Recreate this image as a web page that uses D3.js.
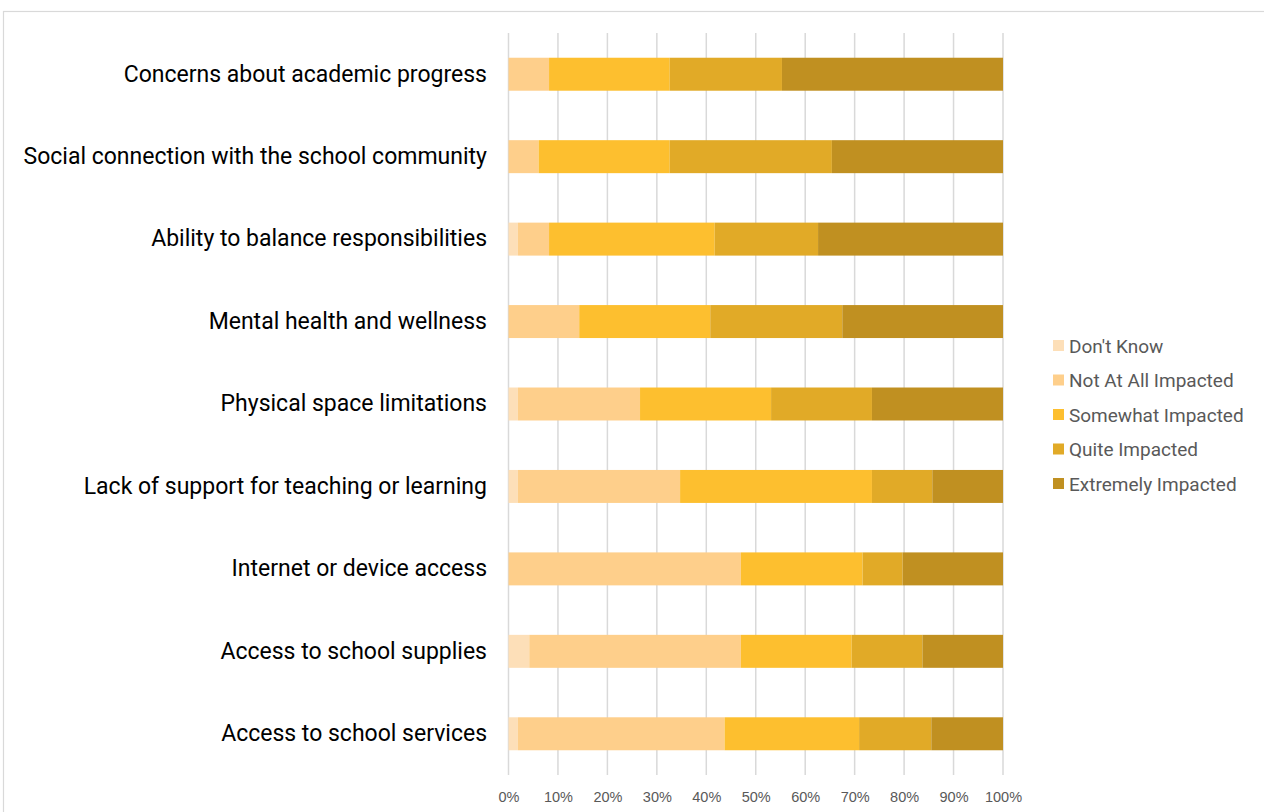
<!DOCTYPE html>
<html><head><meta charset="utf-8">
<script src="https://cdn.jsdelivr.net/npm/d3@7"></script>
<style>body{margin:0;background:#fff}</style>
</head><body>
<svg id="c" width="1264" height="812"></svg>
<script>
const categories = [
  "Concerns about academic progress",
  "Social connection with the school community",
  "Ability to balance responsibilities",
  "Mental health and wellness",
  "Physical space limitations",
  "Lack of support for teaching or learning",
  "Internet or device access",
  "Access to school supplies",
  "Access to school services"
];
const seriesNames = ["Don't Know","Not At All Impacted","Somewhat Impacted","Quite Impacted","Extremely Impacted"];
const dontKnow      = [0,   0,   1.9, 0,    1.9, 1.9, 0,    4.2, 1.9];
const notAtAll      = [8.2, 6.1, 6.3, 14.3, 24.7,32.8,47.0, 42.8,41.8];
const somewhat      = [24.4,26.5,33.5,26.5, 26.5,38.8,24.6, 22.4,27.2];
const quite         = [22.7,32.8,20.9,26.7, 20.4,12.2,8.1,  14.3,14.6];
const extremely     = [44.7,34.6,37.4,32.5, 26.5,14.3,20.3, 16.3,14.5];
const tickValues = [0,10,20,30,40,50,60,70,80,90,100];
const colors = ["#fddfb8","#fecf8b","#fdbf2f","#e1aa27","#c09021"];

const svg = d3.select("#c");
svg.append("rect").attr("x",3.5).attr("y",11.5).attr("width",1270).attr("height",810)
  .attr("fill","none").attr("stroke","#d9d9d9").attr("stroke-width",1.2);

const x = d3.scaleLinear().domain([0,100]).range([508.5,1003]);
const y = d3.scaleBand().domain(categories).range([33,775]).paddingInner(0.6).paddingOuter(0.3);

const rows = categories.map((c,i)=>({cat:c, "Don't Know":dontKnow[i], "Not At All Impacted":notAtAll[i],
  "Somewhat Impacted":somewhat[i], "Quite Impacted":quite[i], "Extremely Impacted":extremely[i]}));
const stack = d3.stack().keys(seriesNames)(rows);
const color = d3.scaleOrdinal().domain(seriesNames).range(colors);

// gridlines
svg.append("g").selectAll("line").data(tickValues).join("line")
  .attr("x1",d=>x(d)).attr("x2",d=>x(d)).attr("y1",33).attr("y2",775)
  .attr("stroke","#d9d9d9").attr("stroke-width",1.5);

// bars
svg.append("g").selectAll("g").data(stack).join("g").attr("fill",d=>color(d.key))
  .selectAll("rect").data(d=>d).join("rect")
  .attr("x",d=>x(d[0])).attr("width",d=>x(d[1])-x(d[0]))
  .attr("y",d=>y(d.data.cat)).attr("height",y.bandwidth());

// x axis
const xa = svg.append("g").attr("transform","translate(0,775)")
  .call(d3.axisBottom(x).tickValues(tickValues).tickFormat(d=>d+"%").tickSize(0).tickPadding(17));
xa.select(".domain").remove();
xa.selectAll("text").attr("fill","#595959").style("font-family","'Liberation Sans', Arial, sans-serif").style("font-size","14.5px");

// y axis
const ya = svg.append("g").attr("transform","translate(487,0)")
  .call(d3.axisLeft(y).tickSize(0).tickPadding(0));
ya.select(".domain").remove();
ya.selectAll("text").attr("fill","#000").style("font-family","Roboto, sans-serif").style("font-size","23px");

// legend
const lg = svg.append("g").selectAll("g").data(seriesNames).join("g")
  .attr("transform",(d,i)=>`translate(1053,${346+i*34.5})`);
lg.append("rect").attr("x",0).attr("y",-6).attr("width",11).attr("height",11).attr("fill",d=>color(d));
lg.append("text").attr("x",16).attr("y",0).attr("dy","0.35em").text(d=>d)
  .attr("fill","#595959").style("font-family","Roboto, sans-serif").style("font-size","19px");
</script>
</body></html>
